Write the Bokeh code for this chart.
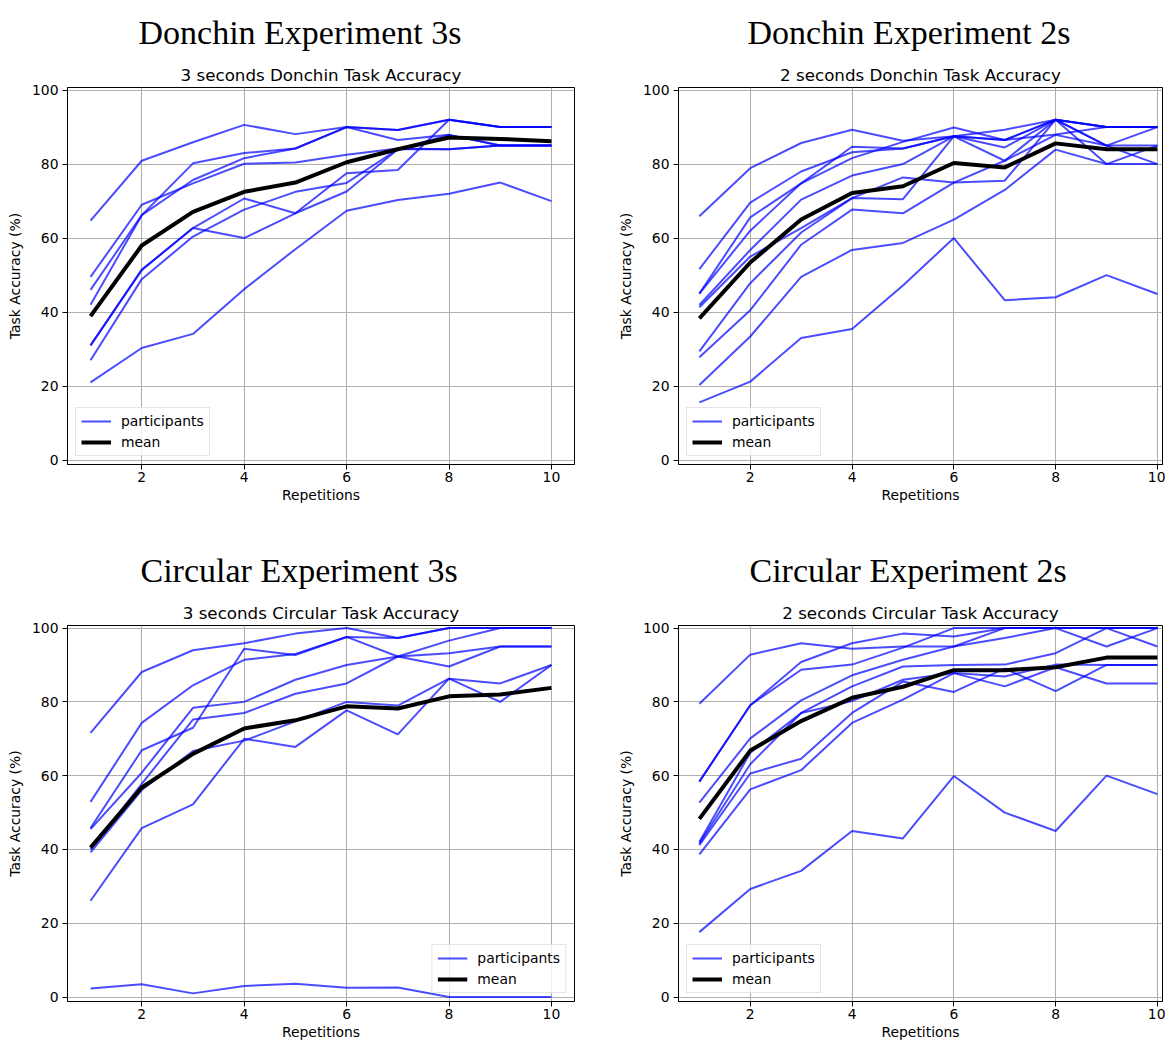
from bokeh.plotting import figure
from bokeh.models import Title, FixedTicker, Range1d, Legend, LegendItem
from bokeh.layouts import column, row
from bokeh.embed import file_html
from bokeh.resources import INLINE

reps = [1, 2, 3, 4, 5, 6, 7, 8, 9, 10]
x_ticks = [2, 4, 6, 8, 10]
y_ticks = [0, 20, 40, 60, 80, 100]

# Donchin Experiment 3s
donchin_3s_participants = [
    [64.7, 80.9, 85.9, 90.6, 88.1, 90.0, 89.2, 92.0, 90.0, 90.0],
    [46.0, 66.2, 80.2, 83.0, 84.2, 90.0, 89.2, 92.0, 90.0, 90.0],
    [42.0, 66.2, 75.7, 81.6, 84.2, 90.0, 86.5, 87.9, 85.0, 85.0],
    [49.5, 69.0, 74.8, 80.1, 80.4, 82.5, 84.2, 84.0, 85.0, 85.0],
    [31.0, 51.4, 62.7, 70.7, 66.7, 77.5, 78.4, 92.0, 90.0, 90.0],
    [31.0, 51.4, 62.7, 60.0, 66.7, 72.6, 84.0, 84.0, 85.0, 85.0],
    [27.0, 48.9, 60.4, 67.7, 72.5, 74.9, 84.0, 87.9, 85.0, 85.0],
    [21.0, 30.3, 34.1, 46.2, 57.0, 67.4, 70.3, 72.0, 75.0, 70.0],
]
donchin_3s_mean = [38.9, 58.0, 67.1, 72.5, 75.0, 80.5, 84.0, 87.2, 86.8, 86.2]

# Donchin Experiment 2s
donchin_2s_participants = [
    [65.9, 78.9, 85.7, 89.3, 86.3, 87.5, 89.3, 92.0, 90.0, 90.0],
    [51.6, 69.6, 78.0, 83.2, 84.2, 87.5, 86.5, 88.0, 90.0, 90.0],
    [45.0, 65.6, 74.8, 84.7, 84.2, 87.5, 84.5, 92.0, 90.0, 90.0],
    [45.0, 62.0, 74.8, 81.6, 86.0, 89.9, 86.5, 92.0, 85.0, 90.0],
    [41.9, 56.8, 70.4, 76.9, 80.0, 87.5, 80.9, 87.9, 85.0, 85.0],
    [41.3, 55.0, 62.7, 70.8, 76.4, 75.0, 75.5, 92.0, 80.0, 80.0],
    [29.4, 47.8, 61.5, 70.8, 70.5, 87.5, 86.5, 92.0, 85.0, 80.0],
    [27.8, 40.5, 58.2, 67.7, 66.7, 75.0, 80.9, 92.0, 90.0, 90.0],
    [20.3, 33.4, 49.5, 56.8, 58.7, 65.0, 73.0, 83.9, 80.0, 85.0],
    [15.6, 21.2, 33.0, 35.4, 47.2, 60.0, 43.2, 44.0, 50.0, 44.9],
]
donchin_2s_mean = [38.3, 53.4, 65.0, 72.2, 74.0, 80.3, 79.1, 85.6, 84.0, 84.0]

# Circular Experiment 3s
circular_3s_participants = [
    [71.6, 88.1, 94.0, 95.9, 98.5, 100.0, 97.3, 100.0, 100.0, 100.0],
    [52.9, 74.3, 84.5, 91.4, 93.0, 97.6, 97.3, 100.0, 100.0, 100.0],
    [45.8, 66.9, 73.0, 94.4, 92.7, 97.6, 92.3, 96.6, 100.0, 100.0],
    [45.5, 60.8, 78.4, 80.0, 86.0, 90.0, 92.3, 89.6, 95.0, 95.0],
    [40.0, 57.8, 75.2, 77.0, 82.2, 85.0, 92.3, 93.2, 95.0, 95.0],
    [39.2, 56.1, 66.7, 69.5, 74.7, 80.0, 79.0, 86.3, 85.0, 90.0],
    [26.1, 45.8, 52.2, 70.0, 67.8, 77.7, 71.2, 86.3, 80.0, 90.0],
    [2.3, 3.5, 1.0, 3.0, 3.6, 2.5, 2.6, 0.0, 0.0, 0.0],
]
circular_3s_mean = [40.5, 56.8, 65.9, 72.8, 75.0, 78.8, 78.2, 81.5, 82.0, 83.8]

# Circular Experiment 2s
circular_2s_participants = [
    [79.5, 92.8, 95.9, 94.4, 95.0, 95.0, 100.0, 100.0, 100.0, 100.0],
    [58.4, 79.1, 90.8, 95.9, 98.5, 97.7, 100.0, 100.0, 100.0, 95.0],
    [58.4, 79.1, 88.7, 90.1, 94.7, 100.0, 100.0, 100.0, 95.0, 100.0],
    [52.7, 70.1, 80.4, 87.2, 91.4, 95.0, 97.3, 100.0, 100.0, 100.0],
    [42.0, 66.2, 77.0, 84.2, 89.6, 90.0, 90.1, 93.2, 100.0, 100.0],
    [41.6, 63.1, 77.0, 80.2, 86.0, 87.8, 86.9, 90.1, 90.0, 90.0],
    [41.2, 60.6, 64.6, 77.0, 85.5, 82.7, 89.0, 82.9, 90.0, 90.0],
    [38.7, 56.3, 61.5, 74.3, 80.6, 87.8, 84.2, 89.4, 85.0, 85.0],
    [17.6, 29.3, 34.2, 45.0, 43.0, 59.9, 50.0, 45.0, 60.0, 55.0],
]
circular_2s_mean = [48.3, 66.8, 74.8, 81.1, 84.1, 88.6, 88.6, 89.4, 92.0, 92.0]

TICK_FONT = "13.9px"


def make_panel(main_text, sub_text, participants, mean, legend_loc,
               width, height, mb_left, mb_right, mb_top, mb_bottom,
               main_offset, x_start, x_end):
    p = figure(width=width, height=height, output_backend="svg",
               toolbar_location=None, title=None,
               x_range=Range1d(x_start, x_end), y_range=Range1d(-1.2, 100.7),
               min_border_left=mb_left, min_border_right=mb_right,
               min_border_top=mb_top, min_border_bottom=mb_bottom)
    p.background_fill_color = "white"
    p.border_fill_color = "white"
    p.outline_line_color = "black"
    p.outline_line_width = 1

    sub = Title(text=sub_text, align="center", text_font="DejaVu Sans",
                text_font_size="16.7px", text_font_style="normal",
                text_color="black", standoff=5)
    p.add_layout(sub, "above")
    main = Title(text=main_text, align="left", offset=main_offset,
                 text_font="Liberation Serif", text_font_size="34px",
                 text_font_style="normal", text_color="black", standoff=20)
    p.add_layout(main, "above")

    p.xaxis.ticker = FixedTicker(ticks=x_ticks)
    p.yaxis.ticker = FixedTicker(ticks=y_ticks)
    for ax in (p.xaxis[0], p.yaxis[0]):
        ax.major_label_text_font = "DejaVu Sans"
        ax.major_label_text_font_size = TICK_FONT
        ax.major_label_text_color = "black"
        ax.axis_label_text_font = "DejaVu Sans"
        ax.axis_label_text_font_size = TICK_FONT
        ax.axis_label_text_font_style = "normal"
        ax.axis_label_text_color = "black"
        ax.major_tick_out = 5
        ax.major_tick_in = 0
        ax.minor_tick_out = 0
        ax.minor_tick_in = 0
        ax.major_tick_line_color = "black"
        ax.axis_line_color = "black"
    p.xaxis.major_label_standoff = 2
    p.xaxis.axis_label_standoff = 2
    p.yaxis.major_label_standoff = 4
    p.yaxis.axis_label_standoff = 6
    p.xaxis.axis_label = "Repetitions"
    p.yaxis.axis_label = "Task Accuracy (%)"

    p.xgrid.grid_line_color = "#b0b0b0"
    p.ygrid.grid_line_color = "#b0b0b0"
    p.xgrid.grid_line_width = 1.1
    p.ygrid.grid_line_width = 1.1

    first = None
    for vals in participants:
        r = p.line(reps, vals, line_color="blue", line_alpha=0.7, line_width=2)
        if first is None:
            first = r
    mr = p.line(reps, mean, line_color="black", line_width=4)

    legend = Legend(items=[LegendItem(label="participants", renderers=[first]),
                           LegendItem(label="mean", renderers=[mr])],
                    location=legend_loc)
    legend.label_text_font = "DejaVu Sans"
    legend.label_text_font_size = TICK_FONT
    legend.label_text_color = "black"
    legend.border_line_color = "#cccccc"
    legend.border_line_width = 1
    legend.background_fill_alpha = 0.8
    legend.glyph_width = 30
    legend.glyph_height = 16
    legend.label_height = 16
    legend.label_standoff = 10
    legend.spacing = 5
    legend.padding = 5
    legend.margin = 8
    p.add_layout(legend)
    return p


tl = make_panel("Donchin Experiment 3s", "3 seconds Donchin Task Accuracy",
                donchin_3s_participants, donchin_3s_mean, "bottom_left",
                614, 538, 67, 40, 87, 74, 71, 0.55, 10.45)
tr = make_panel("Donchin Experiment 2s", "2 seconds Donchin Task Accuracy",
                donchin_2s_participants, donchin_2s_mean, "bottom_left",
                551, 538, 61, 3, 87, 74, 69, 0.59, 10.1)
bl = make_panel("Circular Experiment 3s", "3 seconds Circular Task Accuracy",
                circular_3s_participants, circular_3s_mean, "bottom_right",
                614, 505, 67, 40, 87, 42, 73, 0.55, 10.45)
br = make_panel("Circular Experiment 2s", "2 seconds Circular Task Accuracy",
                circular_2s_participants, circular_2s_mean, "bottom_left",
                551, 505, 61, 3, 87, 42, 71, 0.59, 10.1)

layout = column(row(tl, tr), row(bl, br))
open("out.html", "w").write(file_html(layout, INLINE))
